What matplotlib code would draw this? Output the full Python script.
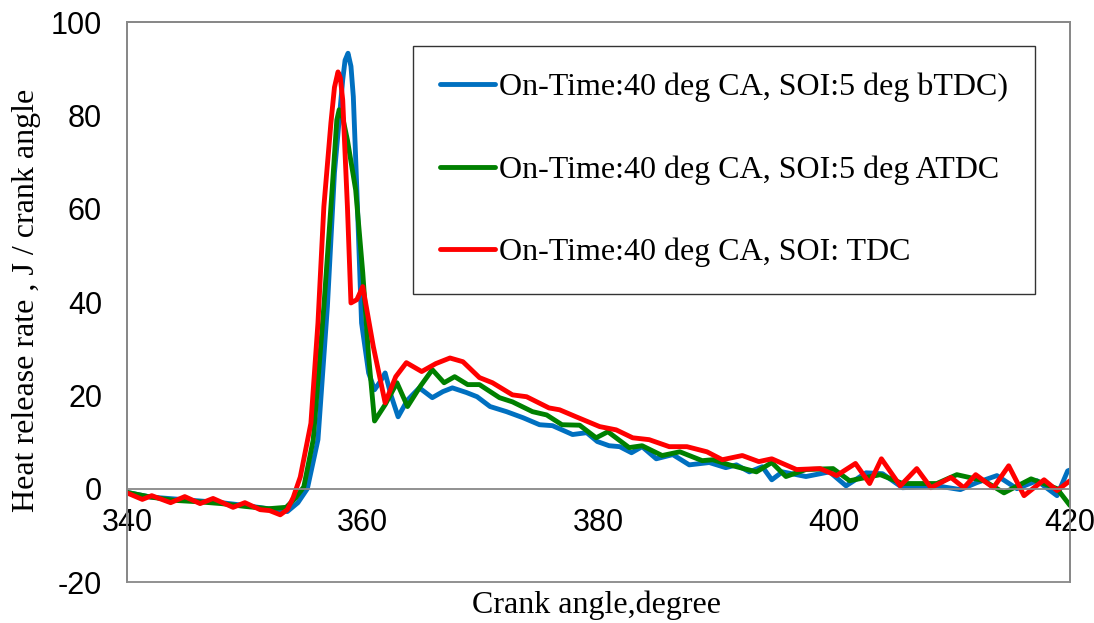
import matplotlib
matplotlib.use("Agg")
import matplotlib.pyplot as plt
from matplotlib.patches import Rectangle

plt.rcParams["axes.unicode_minus"] = False

# ---- data ----
blue_angle = [340, 342, 344, 346, 348, 350, 352, 353.6, 354.5, 355.3, 356.2, 357.0, 357.6, 358.3,
              358.5, 358.75, 359.0, 359.2, 359.5, 359.9, 360.5, 361.0, 361.5, 361.9, 362.4, 363.0,
              363.8, 364.8, 365.9, 366.8, 367.6, 368.8, 369.7, 370.8, 372.2, 373.6, 375.0, 376.1,
              377.8, 379.0, 379.9, 380.9, 381.8, 382.8, 383.7, 384.9, 386.3, 387.7, 389.4, 390.8,
              391.7, 392.8, 393.9, 394.7, 395.6, 397.6, 399.6, 401.0, 402.7, 404.1, 405.8, 408.7,
              410.7, 412.1, 413.8, 415.5, 417.2, 418.9, 419.8, 420]
blue_hrr = [-0.8, -1.8, -2.2, -2.6, -3.0, -3.6, -4.3, -4.9, -3.0, 0.0, 10.5, 39, 67.7, 87.6,
            91.8, 93.3, 90.5, 84, 64, 35.5, 24.8, 21.2, 23, 24.8, 20, 15.4,
            19, 21.6, 19.5, 20.8, 21.6, 20.6, 19.7, 17.6, 16.5, 15.2, 13.7, 13.5,
            11.6, 12.0, 10.1, 9.2, 9.0, 7.7, 9.0, 6.4, 7.3, 5.1, 5.6, 4.5,
            5.1, 3.6, 4.7, 1.9, 3.6, 2.6, 3.6, 0.6, 3.4, 3.2, 0.2, 0.6,
            -0.2, 1.3, 2.8, 0.0, 1.7, -1.5, 3.8, 4.0]

green_angle = [340, 342, 344, 346, 348, 350, 352, 353.5, 354.3, 355.0, 355.8, 356.7, 357.4, 357.8,
               358.0, 358.3, 358.7, 359.4, 360.0, 360.5, 361.0, 361.9, 362.9, 363.8, 364.9, 365.9,
               366.9, 367.8, 368.9, 369.9, 371.6, 372.7, 374.4, 375.6, 376.9, 378.4, 379.8, 380.8,
               382.6, 383.7, 385.4, 386.9, 388.8, 389.7, 391.1, 393.4, 394.7, 395.9, 397.6, 399.9,
               401.3, 403.9, 405.8, 408.7, 410.4, 412.7, 414.4, 416.7, 418.9, 420]
green_hrr = [-0.8, -1.8, -2.5, -2.8, -3.2, -3.8, -4.3, -4.0, -2.0, 0.4, 10.5, 39, 64, 79,
             81.2, 79.5, 74.7, 64, 46.3, 28.3, 14.5, 18, 22.7, 17.6, 22, 25.5,
             22.7, 24, 22.3, 22.3, 19.5, 18.6, 16.5, 15.8, 13.7, 13.6, 10.9, 12.2,
             8.8, 9.2, 7.1, 7.9, 6.0, 6.2, 5.1, 3.6, 5.6, 2.6, 4.1, 4.3,
             1.7, 3.0, 1.1, 1.1, 3.0, 1.7, -0.9, 2.1, 0.0, -3.6]

red_angle = [340, 341.3, 342.1, 343.7, 344.9, 346.2, 347.3, 349.0, 350.0, 351.3, 352.1, 353.0,
             353.6, 354.1, 354.7, 355.6, 356.2, 356.7, 357.3, 357.6, 357.9, 358.1, 358.3, 358.7,
             359.0, 359.5, 360.0, 360.9, 361.9, 362.8, 363.7, 365.0, 366.2, 367.4, 368.5, 369.9,
             371.0, 372.7, 373.9, 375.8, 376.7, 378.1, 380.1, 381.5, 382.9, 384.3, 386.0, 387.5,
             389.2, 390.5, 392.2, 393.6, 394.7, 396.8, 398.8, 400.2, 401.8, 403.0, 404.0, 405.6,
             407.0, 408.2, 409.9, 411.0, 412.0, 413.5, 414.8, 416.1, 417.8, 418.9, 420]
red_hrr = [-0.9, -2.3, -1.5, -3.0, -1.7, -3.2, -2.1, -4.0, -3.0, -4.5, -4.7, -5.6,
           -4.5, -1.9, 2.5, 14, 35.5, 60.4, 78.4, 86, 89.3, 88, 83.3, 60.4,
           39.8, 40.5, 43.3, 30.4, 18.4, 24, 27, 25.1, 26.8, 28, 27.2, 23.8,
           22.7, 20.1, 19.7, 17.3, 16.9, 15.4, 13.3, 12.6, 10.9, 10.5, 9.0, 9.0,
           7.9, 6.2, 7.1, 5.8, 6.4, 4.1, 4.3, 2.8, 5.4, 1.1, 6.4, 0.6,
           4.3, 0.2, 2.4, 0.2, 3.0, 0.2, 4.9, -1.5, 1.9, -0.4, 1.7]

labels = ["On-Time:40 deg CA, SOI:5 deg bTDC)",
          "On-Time:40 deg CA, SOI:5 deg ATDC",
          "On-Time:40 deg CA, SOI: TDC"]
colors = ["#0070C0", "#008000", "#FF0000"]
x_ticks = [340, 360, 380, 400, 420]
y_ticks = [-20, 0, 20, 40, 60, 80, 100]

# ---- figure ----
W, H = 1094, 623
fig = plt.figure(figsize=(W / 100, H / 100), dpi=100)
ax = fig.add_axes([127 / W, 1 - 582 / H, (1070 - 127) / W, (582 - 22) / H])

series = [(blue_angle, blue_hrr), (green_angle, green_hrr), (red_angle, red_hrr)]
for (xa, ya), c, lab in zip(series, colors, labels):
    ax.plot(xa, ya, color=c, lw=3.5, label=lab, solid_joinstyle="round",
            solid_capstyle="round")

ax.set_xlim(340, 420)
ax.set_ylim(-20, 100)
ax.set_xticks(x_ticks)
ax.set_yticks(y_ticks)

gray = "#888888"
for s in ["top", "left", "right"]:
    ax.spines[s].set_color(gray)
    ax.spines[s].set_linewidth(1.3)
ax.spines["bottom"].set_position(("data", 0))
ax.spines["bottom"].set_color(gray)
ax.spines["bottom"].set_linewidth(1.3)
ax.add_patch(Rectangle((0, 0), 1, 1, transform=ax.transAxes, fill=False,
                       edgecolor=gray, lw=1.3, clip_on=False, zorder=0.5))

ax.tick_params(axis="x", length=0, pad=14)
ax.tick_params(axis="y", length=0, pad=18)
for t in ax.get_xticklabels() + ax.get_yticklabels():
    t.set_fontfamily(["Liberation Sans", "DejaVu Sans"])
    t.set_fontsize(22)

serif = ["Liberation Serif", "DejaVu Serif"]
fig.text(597 / W, 1 - 605 / H, "Crank angle,degree", ha="center", va="center",
         family=serif, fontsize=23)
fig.text(27 / W, 1 - 300 / H, "Heat release rate , J / crank angle", ha="center",
         va="center", rotation=90, family=serif, fontsize=23)

leg = ax.legend(loc="upper left", bbox_to_anchor=(413 / W, 1 - 46 / H),
                bbox_transform=fig.transFigure, prop=dict(family=serif, size=23),
                frameon=True, fancybox=False, shadow=False, handlelength=1.72,
                handletextpad=0.13, labelspacing=1.66, borderpad=0.84,
                borderaxespad=0)
leg.get_frame().set_edgecolor("black")
leg.get_frame().set_linewidth(1.0)
for line in leg.get_lines():
    line.set_linewidth(3.5)

fig.savefig("out.png", dpi=100)
